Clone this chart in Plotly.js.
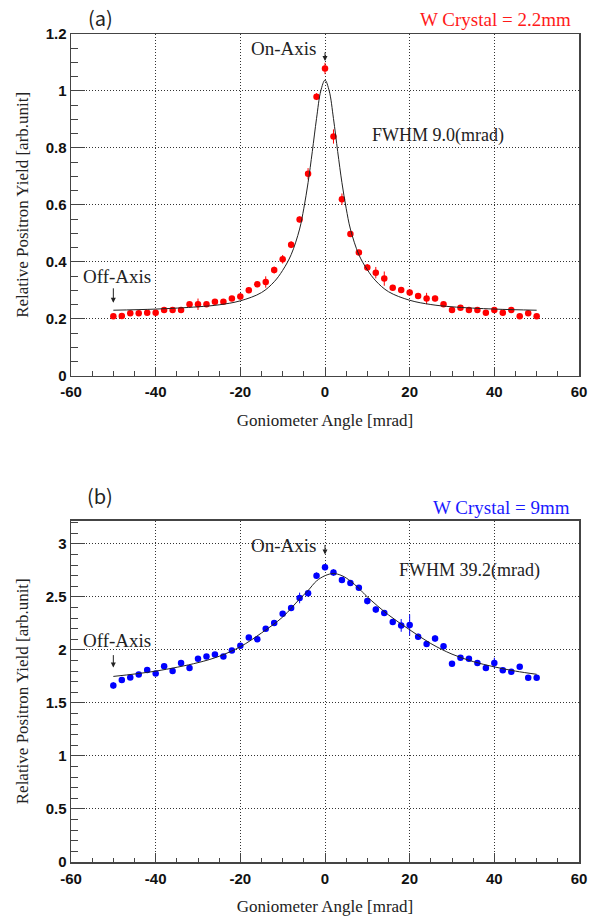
<!DOCTYPE html>
<html>
<head>
<meta charset="utf-8">
<script src="https://cdn.plot.ly/plotly-3.0.1.min.js"></script>
<style>html,body{margin:0;padding:0;background:#fff;}#chart{width:598px;height:916px;}</style>
</head>
<body>
<div id="chart"></div>
<script>
// ---- data ----
const angles = [-50,-48,-46,-44,-42,-40,-38,-36,-34,-32,-30,-28,-26,-24,-22,-20,-18,-16,-14,-12,-10,-8,-6,-4,-2,0,2,4,6,8,10,12,14,16,18,20,22,24,26,28,30,32,34,36,38,40,42,44,46,48,50];

// (a) W crystal 2.2 mm
const yieldA = [0.209,0.21,0.219,0.219,0.221,0.221,0.231,0.231,0.231,0.251,0.251,0.251,0.26,0.26,0.271,0.278,0.30,0.321,0.329,0.371,0.409,0.46,0.549,0.709,0.98,1.079,0.84,0.62,0.498,0.433,0.38,0.362,0.341,0.309,0.301,0.292,0.28,0.271,0.271,0.251,0.231,0.239,0.231,0.231,0.221,0.231,0.221,0.231,0.209,0.219,0.209];
const errA = [0.008,0.008,0.008,0.008,0.008,0.01,0.008,0.008,0.008,0.008,0.02,0.008,0.008,0.008,0.008,0.012,0.01,0.01,0.02,0.012,0.015,0.012,0.01,0.02,0.012,0.02,0.025,0.02,0.01,0.01,0.012,0.02,0.025,0.01,0.01,0.01,0.01,0.02,0.01,0.008,0.008,0.008,0.008,0.008,0.008,0.01,0.008,0.01,0.008,0.008,0.008];
const fitXA = [-50,-40,-30,-25,-20,-15,-12,-10,-8,-6,-5,-4,-3,-2,-1,0,1,2,3,4,5,6,8,10,12,15,20,25,30,40,50];
const fitYA = [0.23,0.234,0.242,0.249,0.263,0.292,0.33,0.37,0.425,0.515,0.588,0.678,0.787,0.903,1.0,1.038,1.0,0.903,0.787,0.678,0.588,0.515,0.425,0.372,0.333,0.295,0.265,0.25,0.242,0.234,0.23];

// (b) W crystal 9 mm
const yieldB = [1.665,1.716,1.74,1.768,1.81,1.778,1.846,1.80,1.877,1.83,1.917,1.938,1.957,1.938,1.994,2.04,2.117,2.10,2.20,2.253,2.34,2.395,2.49,2.535,2.70,2.78,2.73,2.66,2.63,2.585,2.46,2.38,2.349,2.262,2.231,2.235,2.123,2.056,2.108,2.034,1.87,1.926,1.917,1.877,1.83,1.877,1.809,1.793,1.84,1.738,1.738];
const errB = [0.03,0.02,0.02,0.02,0.02,0.02,0.02,0.02,0.02,0.02,0.02,0.02,0.02,0.02,0.02,0.02,0.02,0.02,0.02,0.02,0.02,0.02,0.05,0.03,0.03,0.03,0.03,0.02,0.02,0.02,0.03,0.03,0.02,0.02,0.06,0.1,0.03,0.02,0.03,0.02,0.02,0.02,0.02,0.02,0.02,0.05,0.02,0.02,0.02,0.02,0.02];
const fitXB = [-50,-40,-30,-25,-20,-15,-10,-6,-4,-2,0,2,4,6,8,10,15,20,25,30,35,40,45,50];
const fitYB = [1.75,1.80,1.88,1.94,2.03,2.16,2.31,2.48,2.56,2.65,2.70,2.72,2.70,2.65,2.58,2.50,2.33,2.19,2.06,1.96,1.89,1.84,1.80,1.77];

const xTickVals = [-60,-40,-20,0,20,40,60];
const xTickText = ['-60','-40','-20','0','20','40','60'];

// ---- styling ----
const serif = 'Liberation Serif, Times New Roman, serif';
const sans = 'Liberation Sans, Arial, sans-serif';
const frameColor = '#444';
const gridDash = '1px,2px';

function xAxis(anchor) {
  return {
    anchor: anchor, range: [-60, 60], tickvals: xTickVals, ticktext: xTickText,
    ticks: 'inside', ticklen: 9, tickwidth: 1, tickcolor: frameColor,
    minor: {dtick: 5, tick0: -60, ticks: 'inside', ticklen: 4.5, tickcolor: frameColor, showgrid: false},
    showgrid: true, gridcolor: '#333', griddash: gridDash, gridwidth: 1,
    showline: true, linecolor: frameColor, linewidth: 1.5, mirror: true, zeroline: false,
    ticklabelstandoff: 2,
    tickfont: {family: sans, size: 15, weight: 'bold', color: '#111'},
    title: {text: 'Goniometer Angle [mrad]', font: {family: serif, size: 17, color: '#222'}, standoff: 15},
    fixedrange: true
  };
}
function yAxis(anchor, domain, range, dtick, minorDtick) {
  return {
    anchor: anchor, domain: domain, range: range, dtick: dtick, tick0: 0,
    ticks: 'inside', ticklen: 14, tickwidth: 1, tickcolor: frameColor,
    minor: {dtick: minorDtick, tick0: 0, ticks: 'inside', ticklen: 7, tickcolor: frameColor, showgrid: false},
    showgrid: true, gridcolor: '#333', griddash: gridDash, gridwidth: 1,
    showline: true, linecolor: frameColor, linewidth: 1.5, mirror: true, zeroline: false,
    tickfont: {family: sans, size: 15, weight: 'bold', color: '#111'},
    title: {text: 'Relative Positron Yield [arb.unit]', font: {family: serif, size: 17, color: '#222'}, standoff: 12},
    fixedrange: true
  };
}

const traces = [
  {x: angles, y: yieldA, xaxis: 'x', yaxis: 'y', type: 'scatter', mode: 'markers',
   marker: {color: '#ff0000', size: 6.5},
   error_y: {type: 'data', array: errA, visible: true, color: '#ff0000', thickness: 1, width: 0}},
  {x: fitXA, y: fitYA, xaxis: 'x', yaxis: 'y', type: 'scatter', mode: 'lines',
   line: {color: '#222', width: 1, shape: 'spline', smoothing: 1}},
  {x: angles, y: yieldB, xaxis: 'x2', yaxis: 'y2', type: 'scatter', mode: 'markers',
   marker: {color: '#0000ff', size: 6.5},
   error_y: {type: 'data', array: errB, visible: true, color: '#0000ff', thickness: 1, width: 0}},
  {x: fitXB, y: fitYB, xaxis: 'x2', yaxis: 'y2', type: 'scatter', mode: 'lines',
   line: {color: '#222', width: 1, shape: 'spline', smoothing: 1}}
];

function txt(xref, yref, x, y, text, xanchor, size, color, family) {
  return {xref: xref, yref: yref, x: x, y: y, text: text, showarrow: false,
          xanchor: xanchor, yanchor: 'middle',
          font: {family: family || serif, size: size, color: color || '#222'}};
}
function arrow(xref, yref, x, y, len) {
  return {xref: xref, yref: yref, x: x, y: y, ax: 0, ay: -len, text: '',
          showarrow: true, arrowhead: 2, arrowsize: 1, arrowwidth: 1, arrowcolor: '#222'};
}
const cjk = 'Noto Sans CJK JP, Noto Sans, sans-serif';

const annotations = [
  // panel (a)
  txt('x domain', 'y domain', 0.0576, 1.047, '(a)', 'center', 20, '#222', cjk),
  txt('x domain', 'y domain', 0.988, 1.041, 'W Crystal = 2.2mm', 'right', 19, '#ff1a1a'),
  txt('x', 'y', -1.7, 1.15, 'On-Axis', 'right', 19),
  arrow('x', 'y', 0, 1.105, 10),
  txt('x', 'y', 10.7, 0.845, 'FWHM 9.0(mrad)', 'left', 18),
  txt('x', 'y', -57.7, 0.35, 'Off-Axis', 'left', 19),
  arrow('x', 'y', -50, 0.256, 16),
  // panel (b)
  txt('x2 domain', 'y2 domain', 0.0565, 1.0735, '(b)', 'center', 20, '#222', cjk),
  txt('x2 domain', 'y2 domain', 0.986, 1.038, 'W Crystal = 9mm', 'right', 19, '#1a1aff'),
  txt('x2', 'y2', -1.7, 2.987, 'On-Axis', 'right', 19),
  arrow('x2', 'y2', 0, 2.90, 11),
  txt('x2', 'y2', 17.0, 2.75, 'FWHM 39.2(mrad)', 'left', 18),
  txt('x2', 'y2', -57.7, 2.09, 'Off-Axis', 'left', 19),
  arrow('x2', 'y2', -50, 1.833, 14)
];

const layout = {
  width: 598, height: 916,
  margin: {l: 71, r: 19, t: 34, b: 54},
  paper_bgcolor: '#fff', plot_bgcolor: '#fff',
  showlegend: false,
  xaxis: xAxis('y'),
  yaxis: yAxis('x', [0.5873, 1], [0, 1.2], 0.2, 0.05),
  xaxis2: xAxis('y2'),
  yaxis2: yAxis('x2', [0, 0.4124], [0, 3.22], 0.5, 0.1),
  annotations: annotations
};

Plotly.newPlot('chart', traces, layout, {displayModeBar: false, staticPlot: true});
</script>
</body>
</html>
